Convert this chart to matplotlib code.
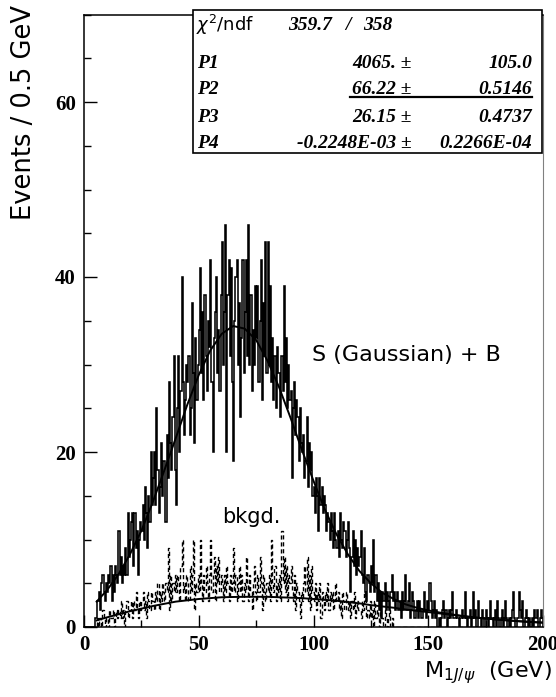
import matplotlib
matplotlib.use('Agg')
import matplotlib.pyplot as plt
import numpy as np
from matplotlib.ticker import MultipleLocator
from matplotlib.patches import Rectangle
from matplotlib.lines import Line2D

"""
M(1J/psi) spectrum, 0.5 GeV bins, with S (Gaussian) + B fit and bkgd. histogram
"""

# bin range of the histograms
x_lo, x_hi = 0.0, 200.0

# events per 0.5 GeV bin (400 bins, 0-200 GeV)
events = [
    0, 0, 0, 0, 0, 0, 0, 0, 0, 0,
    1, 3, 3, 4, 2, 5, 6, 4, 3, 5,
    4, 6, 5, 7, 3, 6, 4, 7, 6, 5,
    11, 6, 8, 5, 7, 6, 9, 6, 13, 8,
    10, 12, 13, 7, 13, 9, 11, 6, 10, 12,
    11, 14, 10, 16, 13, 9, 15, 12, 20, 14,
    17, 20, 14, 25, 18, 13, 16, 21, 15, 19,
    19, 12, 22, 17, 28, 21, 18, 24, 31, 18,
    14, 25, 31, 20, 27, 40, 28, 22, 26, 30,
    28, 31, 22, 25, 37, 29, 21, 33, 26, 30,
    34, 41, 29, 36, 26, 38, 31, 27, 35, 32,
    42, 28, 20, 33, 36, 40, 29, 34, 27, 38,
    44, 30, 36, 46, 20, 38, 42, 31, 41, 28,
    19, 35, 40, 42, 30, 37, 24, 33, 42, 29,
    36, 42, 31, 46, 30, 38, 27, 34, 30, 39,
    33, 39, 28, 35, 42, 26, 37, 31, 44, 29,
    44, 30, 39, 28, 33, 26, 31, 25, 32, 29,
    29, 24, 31, 27, 39, 28, 33, 25, 30, 26,
    27, 17, 25, 28, 22, 26, 24, 19, 25, 21,
    20, 22, 17, 19, 24, 16, 21, 18, 20, 15,
    16, 13, 17, 15, 11, 17, 14, 16, 13, 15,
    14, 11, 13, 12, 10, 13, 11, 9, 13, 10,
    9, 11, 8, 13, 10, 9, 12, 11, 8, 10,
    12, 9, 4, 8, 11, 7, 10, 6, 9, 7,
    8, 11, 6, 5, 9, 4, 3, 6, 5, 4,
    7, 5, 10, 4, 6, 3, 5, 2, 4, 1,
    4, 3, 5, 2, 4, 3, 2, 4, 6, 3,
    4, 2, 3, 4, 2, 3, 1, 4, 2, 3,
    6, 2, 3, 5, 1, 2, 4, 3, 1, 2,
    3, 1, 3, 2, 1, 2, 4, 2, 1, 3,
    2, 5, 3, 1, 2, 3, 1, 2, 0, 1,
    0, 1, 2, 3, 1, 2, 0, 1, 2, 1,
    2, 4, 1, 1, 2, 1, 1, 0, 1, 2,
    1, 1, 4, 1, 0, 1, 2, 0, 1, 4,
    1, 2, 0, 3, 1, 1, 0, 2, 1, 0,
    2, 1, 0, 1, 3, 1, 0, 1, 2, 0,
    3, 1, 0, 1, 2, 0, 1, 3, 1, 0,
    1, 0, 1, 2, 4, 1, 0, 1, 1, 4,
    2, 1, 3, 0, 1, 2, 1, 0, 1, 0,
    1, 0, 2, 1, 1, 2, 0, 1, 2, 1,
]

# background events per 0.5 GeV bin (dashed histogram)
bkgd_events = [
    0, 0, 0, 0, 0, 0, 0, 0, 0, 0,
    0, 1, 0, 1, 1, 0, 2, 1, 0, 1,
    1, 0, 2, 1, 1, 2, 0, 1, 2, 1,
    2, 1, 3, 1, 2, 0, 2, 3, 1, 2,
    2, 3, 1, 3, 2, 4, 2, 1, 3, 2,
    3, 4, 2, 3, 1, 4, 3, 2, 4, 3,
    3, 2, 4, 3, 5, 2, 4, 3, 5, 4,
    3, 5, 4, 9, 2, 6, 3, 5, 4, 6,
    4, 6, 5, 3, 7, 10, 4, 5, 3, 6,
    5, 3, 7, 4, 6, 10, 2, 5, 4, 6,
    4, 10, 5, 3, 6, 4, 7, 5, 3, 6,
    10, 4, 6, 8, 3, 7, 5, 8, 4, 6,
    5, 3, 6, 4, 7, 5, 3, 6, 4, 5,
    9, 4, 6, 3, 5, 7, 4, 6, 3, 5,
    4, 8, 5, 3, 6, 4, 2, 5, 7, 4,
    3, 6, 4, 8, 5, 2, 6, 4, 3, 5,
    4, 6, 3, 10, 5, 4, 7, 3, 5, 4,
    6, 3, 11, 5, 8, 4, 7, 3, 6, 5,
    7, 4, 3, 6, 2, 5, 4, 3, 1, 4,
    3, 5, 7, 4, 8, 3, 6, 2, 7, 4,
    3, 5, 2, 4, 3, 5, 1, 4, 3, 2,
    4, 3, 5, 2, 4, 3, 4, 2, 3, 5,
    3, 4, 2, 3, 1, 4, 3, 2, 4, 3,
    2, 3, 1, 3, 2, 4, 1, 2, 3, 2,
    2, 1, 3, 2, 4, 3, 1, 2, 1, 3,
    1, 2, 0, 3, 1, 2, 1, 0, 2, 1,
    1, 0, 2, 1, 0, 1, 2, 0, 1, 0,
    0, 0, 0, 0, 0, 0, 0, 0, 0, 0,
    0, 0, 0, 0, 0, 0, 0, 0, 0, 0,
    0, 0, 0, 0, 0, 0, 0, 0, 0, 0,
    0, 0, 0, 0, 0, 0, 0, 0, 0, 0,
    0, 0, 0, 0, 0, 0, 0, 0, 0, 0,
    0, 0, 0, 0, 0, 0, 0, 0, 0, 0,
    0, 0, 0, 0, 0, 0, 0, 0, 0, 0,
    0, 0, 0, 0, 0, 0, 0, 0, 0, 0,
    0, 0, 0, 0, 0, 0, 0, 0, 0, 0,
    0, 0, 0, 0, 0, 0, 0, 0, 0, 0,
    0, 0, 0, 0, 0, 0, 0, 0, 0, 0,
    0, 0, 0, 0, 0, 0, 0, 0, 0, 0,
    0, 0, 0, 0, 0, 0, 0, 0, 0, 0,
]

# fit curves
curve_x = [5.5, 10, 15, 20, 25, 30, 35, 40, 45, 50, 55, 60, 65, 70, 75, 80, 85, 90, 95, 100,
           105, 110, 115, 120, 125, 130, 135, 140, 145, 150, 155, 160, 165, 170, 175, 180,
           185, 190, 195, 200]
sb_fit = [2.9, 4.2, 6.0, 8.3, 11.0, 14.3, 17.9, 21.6, 25.4, 28.8, 31.6, 33.5, 34.4, 34.1,
          32.8, 30.4, 27.4, 23.9, 20.2, 16.7, 13.4, 10.6, 8.3, 6.4, 5.0, 3.9, 3.2, 2.6, 2.2,
          1.9, 1.65, 1.45, 1.25, 1.1, 0.97, 0.85, 0.75, 0.65, 0.57, 0.5]
bkg_fit = [0.75, 1.1, 1.45, 1.8, 2.1, 2.4, 2.65, 2.9, 3.05, 3.2, 3.3, 3.4, 3.43, 3.45, 3.45,
           3.45, 3.4, 3.35, 3.3, 3.2, 3.1, 3.0, 2.85, 2.7, 2.5, 2.35, 2.2, 2.0, 1.85, 1.7,
           1.55, 1.4, 1.25, 1.1, 0.97, 0.85, 0.75, 0.65, 0.57, 0.5]

# fit statistics box
chi2_text = ['359.7', '/', '358']
par_names = ['P1', 'P2', 'P3', 'P4']
par_values = ['4065.', '66.22', '26.15', '-0.2248E-03']
par_errors = ['105.0', '0.5146', '0.4737', '0.2266E-04']

W, H = 556, 697
fig = plt.figure(figsize=(W / 100, H / 100), dpi=100)


def fx(px):
    return px / W


def fy(py):
    return 1 - py / H


ax = fig.add_axes([fx(84), fy(627), fx(543) - fx(84), fy(14.5) - fy(627)])

edges = np.linspace(x_lo, x_hi, len(events) + 1)
ax.stairs(bkgd_events, edges, color='black', lw=1.0, linestyle=(0, (3, 2)))
ax.stairs(events, edges, color='black', lw=1.15)
ax.plot(curve_x, sb_fit, color='black', lw=1.4)
ax.plot(curve_x, bkg_fit, color='black', lw=1.4)

ax.set_xlim(x_lo, x_hi)
ax.set_ylim(0, 70)
ax.xaxis.set_major_locator(MultipleLocator(50))
ax.xaxis.set_minor_locator(MultipleLocator(25))
ax.yaxis.set_major_locator(MultipleLocator(20))
ax.yaxis.set_minor_locator(MultipleLocator(5))
ax.tick_params(which='both', direction='in', width=1.0)
ax.tick_params(which='major', length=9, pad=6)
ax.tick_params(which='minor', length=5)
for lab in ax.get_xticklabels() + ax.get_yticklabels():
    lab.set_fontfamily('Liberation Serif')
    lab.set_fontweight('bold')
    lab.set_fontsize(15)
for s in ['left', 'bottom', 'top']:
    ax.spines[s].set_linewidth(1.1)
ax.spines['right'].set_color('#808080')

ax.text(99.5, 31.1, 'S (Gaussian) + B', fontsize=16, family='DejaVu Sans', va='center')
ax.text(60.2, 12.6, 'bkgd.', fontsize=15, family='DejaVu Sans', va='center')

fig.text(fx(24), fy(5), 'Events / 0.5 GeV', rotation=90, ha='center', va='top',
         fontsize=18.5, family='DejaVu Sans')
fig.text(fx(552), fy(673), r'M$_{1J/\psi}$  (GeV)', ha='right', va='center',
         fontsize=16, family='DejaVu Sans')

# stats box
fig.add_artist(Rectangle((fx(193), fy(153)), fx(542) - fx(193), fy(10) - fy(153),
                         transform=fig.transFigure, facecolor='white', edgecolor='black',
                         lw=1.2, zorder=5))
serif = dict(family='Liberation Serif', style='italic', weight='bold', fontsize=14,
             va='center', zorder=6)
fig.text(fx(196), fy(25), r'$\chi^2$/ndf', family='DejaVu Sans', fontsize=13,
         va='center', zorder=6)
fig.text(fx(288), fy(25), chi2_text[0], ha='left', **serif)
fig.text(fx(345), fy(25), chi2_text[1], ha='left', **serif)
fig.text(fx(363), fy(25), chi2_text[2], ha='left', **serif)
row_y = [63, 90, 117, 143]
for name, val, err, ry in zip(par_names, par_values, par_errors, row_y):
    fig.text(fx(197), fy(ry), name, ha='left', **serif)
    fig.text(fx(412), fy(ry), val + ' \u00b1', ha='right', **serif)
    fig.text(fx(532), fy(ry), err, ha='right', **serif)
fig.add_artist(Line2D([fx(350), fx(532)], [fy(97), fy(97)], transform=fig.transFigure,
                      color='black', lw=1.6, zorder=6))

fig.savefig('out.png', dpi=100)
